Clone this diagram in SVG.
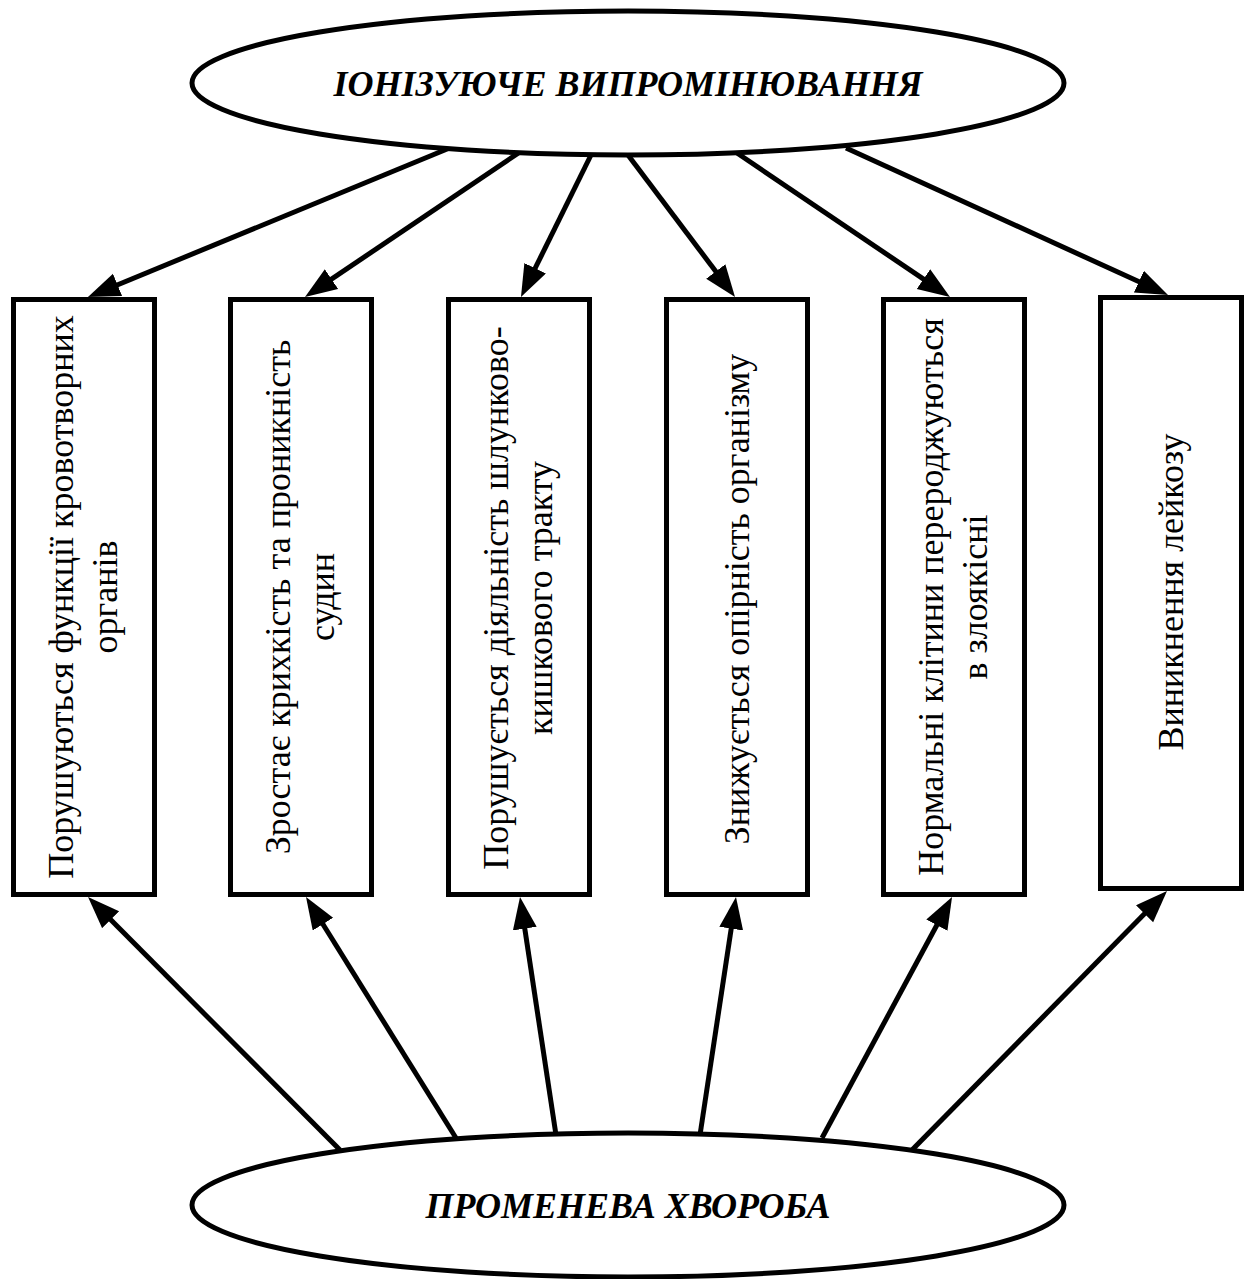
<svg xmlns="http://www.w3.org/2000/svg" width="1254" height="1279" viewBox="0 0 1254 1279">
<style>
.ell{fill:#fff;stroke:#000;stroke-width:5}
.box{fill:#fff;stroke:#000;stroke-width:5}
.title{font-family:"Liberation Serif","Times New Roman",serif;font-weight:bold;font-style:italic;font-size:36px;text-anchor:middle;fill:#000}
.lbl{font-family:"Liberation Serif","Times New Roman",serif;font-size:36px;text-anchor:middle;fill:#000}
.con line{stroke:#000;stroke-width:5;marker-end:url(#ah)}
</style>
<defs>
<marker id="ah" markerUnits="userSpaceOnUse" markerWidth="34" markerHeight="26" refX="22" refY="12" orient="auto">
<path d="M0,0 L32,12 L0,24 z" fill="#000"/>
</marker>
</defs>
<rect width="1254" height="1279" fill="#fff"/>
<g id="connectors" class="con">
<line x1="452" y1="147" x2="97.2" y2="293.2"/>
<line x1="520" y1="152" x2="313.3" y2="291.4"/>
<line x1="592" y1="153" x2="525.4" y2="288.0"/>
<line x1="628" y1="155" x2="729.0" y2="289.0"/>
<line x1="737" y1="153" x2="941.7" y2="291.4"/>
<line x1="846" y1="148" x2="1158.9" y2="290.8"/>
<line x1="340" y1="1150" x2="95.1" y2="904.1"/>
<line x1="456" y1="1138" x2="311.3" y2="905.5"/>
<line x1="556" y1="1135" x2="521.5" y2="906.9"/>
<line x1="700" y1="1135" x2="734.5" y2="906.9"/>
<line x1="822" y1="1138" x2="947.3" y2="905.8"/>
<line x1="912" y1="1150" x2="1160.0" y2="898.1"/>
</g>
<g id="top">
<ellipse class="ell" cx="628" cy="83" rx="436" ry="72"/>
<text class="title" x="628" y="96">ІОНІЗУЮЧЕ ВИПРОМІНЮВАННЯ</text>
</g>
<g id="bottom">
<ellipse class="ell" cx="628" cy="1205" rx="436" ry="72"/>
<text class="title" x="628" y="1218">ПРОМЕНЕВА ХВОРОБА</text>
</g>
<g id="box1">
<rect class="box" x="13.5" y="299.5" width="141" height="595"/>
<text class="lbl" transform="translate(84,597) rotate(-90)"><tspan x="0" y="-11">Порушуються функції кровотворних</tspan><tspan x="0" y="33">органів</tspan></text>
</g>
<g id="box2">
<rect class="box" x="230.5" y="299.5" width="141" height="595"/>
<text class="lbl" transform="translate(301,597) rotate(-90)"><tspan x="0" y="-11">Зростає крихкість та проникність</tspan><tspan x="0" y="33">судин</tspan></text>
</g>
<g id="box3">
<rect class="box" x="448.5" y="299.5" width="141" height="595"/>
<text class="lbl" transform="translate(519,598) rotate(-90)"><tspan x="0" y="-11">Порушується діяльність шлунково-</tspan><tspan x="0" y="33">кишкового тракту</tspan></text>
</g>
<g id="box4">
<rect class="box" x="666.5" y="299.5" width="141" height="595"/>
<text class="lbl" transform="translate(737,599) rotate(-90)"><tspan x="0" y="12">Знижується опірність організму</tspan></text>
</g>
<g id="box5">
<rect class="box" x="883.5" y="299.5" width="141" height="595"/>
<text class="lbl" transform="translate(954,597) rotate(-90)"><tspan x="0" y="-11">Нормальні клітини перероджуються</tspan><tspan x="0" y="33">в злоякісні</tspan></text>
</g>
<g id="box6">
<rect class="box" x="1100.5" y="297.5" width="141" height="591"/>
<text class="lbl" transform="translate(1171,592) rotate(-90)"><tspan x="0" y="12">Виникнення лейкозу</tspan></text>
</g>
</svg>
